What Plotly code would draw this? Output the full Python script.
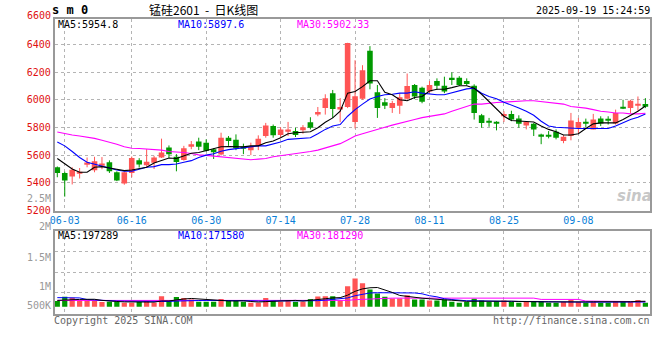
import plotly.graph_objects as go

# ---------------- data ----------------
dates = ["05-30",
         "06-03", "06-04", "06-05", "06-06", "06-09", "06-10", "06-11", "06-12", "06-13", "06-16",
         "06-17", "06-18", "06-19", "06-20", "06-23", "06-24", "06-25", "06-26", "06-27", "06-30",
         "07-01", "07-02", "07-03", "07-04", "07-07", "07-08", "07-09", "07-10", "07-11", "07-14",
         "07-15", "07-16", "07-17", "07-18", "07-21", "07-22", "07-23", "07-24", "07-25", "07-28",
         "07-29", "07-30", "07-31", "08-01", "08-04", "08-05", "08-06", "08-07", "08-08", "08-11",
         "08-12", "08-13", "08-14", "08-15", "08-18", "08-19", "08-20", "08-21", "08-22", "08-25",
         "08-26", "08-27", "08-28", "08-29", "09-01", "09-02", "09-03", "09-04", "09-05", "09-08",
         "09-09", "09-10", "09-11", "09-12", "09-15", "09-16", "09-17", "09-18", "09-19"]

opens = [5512, 5471, 5445, 5469, 5536, 5490, 5527, 5548, 5476, 5395,
         5470, 5563, 5526, 5545, 5583, 5655, 5588, 5565, 5660, 5698,
         5690, 5643, 5605, 5726, 5712, 5662, 5636, 5667, 5738, 5810,
         5745, 5774, 5774, 5779, 5838, 5893, 5940, 6048, 5929, 5948,
         5840, 6007, 6355, 6055, 5983, 5940, 5957, 6007, 6107, 6088,
         6060, 6136, 6102, 6160, 6160, 6136, 6102, 5888, 5845, 5840,
         5881, 5898, 5864, 5814, 5826, 5750, 5748, 5769, 5702, 5738,
         5798, 5840, 5786, 5864, 5858, 5829, 5945, 5940, 5960, 5969]
highs = [5518, 5480, 5512, 5507, 5583, 5588, 5586, 5562, 5483, 5478,
         5590, 5578, 5643, 5595, 5719, 5670, 5607, 5667, 5702, 5726,
         5714, 5650, 5762, 5738, 5750, 5683, 5690, 5743, 5833, 5821,
         5802, 5840, 5798, 5817, 5874, 5948, 6040, 6071, 6012, 6412,
         6286, 6250, 6388, 6107, 6012, 5993, 6048, 6190, 6114, 6095,
         6136, 6155, 6167, 6198, 6171, 6155, 6112, 5898, 5869, 5845,
         5917, 5921, 5888, 5845, 5833, 5755, 5774, 5786, 5745, 5905,
         5869, 5864, 5898, 5881, 5881, 5929, 6000, 6000, 6024, 6012]
lows = [5440, 5300, 5388, 5431, 5512, 5476, 5498, 5471, 5412, 5386,
        5440, 5510, 5515, 5500, 5579, 5580, 5483, 5560, 5643, 5636,
        5626, 5572, 5598, 5667, 5636, 5607, 5600, 5636, 5726, 5726,
        5726, 5738, 5731, 5755, 5786, 5881, 5893, 5869, 5838, 5940,
        5793, 6000, 6076, 5869, 5933, 5905, 5898, 6000, 6005, 5975,
        6048, 6071, 6048, 6107, 6100, 6102, 5857, 5798, 5805, 5779,
        5840, 5845, 5798, 5786, 5738, 5679, 5721, 5714, 5686, 5707,
        5755, 5802, 5786, 5810, 5821, 5821, 5933, 5905, 5921, 5940]
closes = [5470, 5416, 5495, 5478, 5546, 5555, 5540, 5483, 5417, 5476,
          5580, 5533, 5552, 5583, 5619, 5607, 5550, 5650, 5679, 5660,
          5631, 5620, 5726, 5703, 5650, 5650, 5660, 5719, 5814, 5743,
          5786, 5786, 5745, 5802, 5798, 5912, 6012, 5933, 5948, 6410,
          6026, 6214, 6117, 5940, 5957, 5976, 6019, 6100, 6024, 5985,
          6107, 6102, 6060, 6143, 6107, 6114, 5905, 5833, 5835, 5830,
          5898, 5857, 5826, 5840, 5786, 5740, 5740, 5726, 5733, 5850,
          5840, 5832, 5857, 5829, 5852, 5905, 5938, 5993, 5968, 5955]

ma5 = [5576, 5536, 5500, 5476, 5476, 5512, 5517, 5507, 5500, 5488,
       5493, 5500, 5512, 5543, 5560, 5579, 5576, 5595, 5614, 5619,
       5634, 5645, 5661, 5662, 5660, 5660, 5667, 5667, 5690, 5702,
       5726, 5755, 5762, 5767, 5769, 5798, 5838, 5869, 5917, 6048,
       6060, 6095, 6138, 6138, 6055, 6036, 6000, 5993, 6017, 6024,
       6064, 6076, 6076, 6088, 6102, 6102, 6083, 6040, 5988, 5940,
       5881, 5850, 5845, 5840, 5840, 5810, 5786, 5769, 5745, 5745,
       5755, 5793, 5826, 5833, 5833, 5833, 5857, 5888, 5917, 5954.8]
ma10 = [5695, 5667, 5626, 5583, 5548, 5536, 5524, 5507, 5493, 5483,
        5483, 5500, 5512, 5517, 5531, 5531, 5536, 5548, 5560, 5583,
        5600, 5610, 5628, 5640, 5648, 5655, 5662, 5667, 5667, 5679,
        5695, 5714, 5719, 5719, 5726, 5755, 5786, 5810, 5821, 5881,
        5929, 5969, 6005, 6024, 6036, 6040, 6048, 6048, 6058, 6048,
        6040, 6036, 6036, 6052, 6064, 6079, 6083, 6048, 6024, 6007,
        5983, 5964, 5940, 5917, 5888, 5845, 5810, 5802, 5798, 5798,
        5793, 5793, 5793, 5793, 5793, 5810, 5833, 5857, 5874, 5897.6]
ma30 = [5767, 5755, 5745, 5738, 5731, 5721, 5707, 5695, 5679, 5660,
        5650, 5648, 5643, 5643, 5636, 5626, 5624, 5619, 5612, 5602,
        5598, 5593, 5589, 5583, 5576, 5571, 5567, 5571, 5576, 5588,
        5595, 5607, 5612, 5619, 5626, 5636, 5650, 5667, 5683, 5710,
        5738, 5755, 5769, 5786, 5802, 5817, 5829, 5840, 5857, 5871,
        5881, 5888, 5898, 5917, 5933, 5952, 5969, 5969, 5976, 5981,
        5983, 5988, 5993, 5993, 5993, 5988, 5983, 5976, 5969, 5952,
        5948, 5940, 5929, 5917, 5912, 5905, 5905, 5898, 5898, 5902.33]

volumes = [205000, 360000, 324000, 227000, 227000, 205000, 169000, 180000, 180000, 144000,
           144000, 169000, 205000, 144000, 385000, 205000, 349000, 313000, 263000, 180000,
           180000, 180000, 277000, 227000, 205000, 180000, 144000, 144000, 313000, 241000,
           180000, 241000, 180000, 180000, 277000, 371000, 385000, 385000, 227000, 745000,
           1033000, 853000, 623000, 479000, 360000, 299000, 299000, 421000, 263000, 263000,
           227000, 227000, 263000, 180000, 144000, 169000, 288000, 227000, 180000, 205000,
           227000, 180000, 144000, 169000, 205000, 205000, 144000, 144000, 169000, 241000,
           169000, 144000, 180000, 144000, 144000, 205000, 205000, 180000, 241000, 144000]
vma5 = [230000, 250000, 260000, 265000, 269000, 270000, 230000, 200000, 190000, 175000,
        165000, 165000, 170000, 165000, 210000, 210000, 250000, 280000, 300000, 280000,
        260000, 230000, 215000, 210000, 210000, 215000, 190000, 170000, 185000, 190000,
        205000, 225000, 230000, 205000, 225000, 250000, 290000, 320000, 330000, 420000,
        560000, 650000, 690000, 700000, 620000, 520000, 410000, 370000, 330000, 310000,
        290000, 260000, 250000, 235000, 210000, 195000, 200000, 200000, 200000, 220000,
        205000, 200000, 190000, 180000, 180000, 185000, 175000, 175000, 170000, 180000,
        175000, 175000, 180000, 180000, 160000, 165000, 175000, 180000, 195000, 197289]
vma10 = [330000, 330000, 330000, 320000, 260000, 240000, 230000, 215000, 205000, 200000,
         195000, 185000, 180000, 175000, 185000, 190000, 205000, 220000, 225000, 225000,
         230000, 230000, 235000, 240000, 235000, 225000, 215000, 205000, 205000, 205000,
         200000, 200000, 205000, 215000, 215000, 220000, 240000, 260000, 280000, 320000,
         400000, 460000, 500000, 510000, 510000, 510000, 510000, 510000, 500000, 470000,
         400000, 360000, 290000, 260000, 230000, 215000, 215000, 205000, 200000, 195000,
         195000, 195000, 190000, 180000, 180000, 180000, 180000, 180000, 175000, 175000,
         170000, 165000, 165000, 165000, 165000, 165000, 165000, 168000, 170000, 171580]
vma30 = [228000, 228000, 228000, 228000, 228000, 228000, 228000, 228000, 228000, 228000,
         228000, 228000, 228000, 225000, 205000, 205000, 205000, 205000, 205000, 205000,
         205000, 205000, 205000, 205000, 205000, 205000, 205000, 205000, 205000, 205000,
         205000, 205000, 205000, 205000, 205000, 205000, 205000, 205000, 210000, 230000,
         255000, 270000, 290000, 300000, 312000, 312000, 312000, 312000, 312000, 312000,
         312000, 312000, 312000, 312000, 312000, 312000, 312000, 312000, 312000, 312000,
         312000, 312000, 312000, 312000, 312000, 265000, 265000, 265000, 265000, 265000,
         265000, 205000, 205000, 205000, 205000, 205000, 205000, 190000, 185000, 181290]

tick_labels = ["06-03", "06-16", "06-30", "07-14", "07-28", "08-11", "08-25", "09-08"]
price_ticks = [5200, 5400, 5600, 5800, 6000, 6200, 6400]

# ---------------- styling ----------------
RED = "#ff5555"
GREEN = "#009a00"
MONO = "DejaVu Sans Mono"
W, H = 660, 360
L_PX, R_PX = 50, 650

idx = list(range(len(dates)))
tick_idx = [dates.index(t) for t in tick_labels]
is_up = [c >= o for o, c in zip(opens, closes)]
colors = [RED if u else GREEN for u in is_up]

fig = go.Figure()

# wicks
for flag, col in ((True, RED), (False, GREEN)):
    xs, ys = [], []
    for i in idx:
        if is_up[i] == flag:
            xs += [i, i, None]
            ys += [lows[i], highs[i], None]
    fig.add_trace(go.Scatter(x=xs, y=ys, mode="lines", line=dict(color=col, width=1),
                             hoverinfo="skip", xaxis="x", yaxis="y"))

# bodies
body_base = [min(o, c) for o, c in zip(opens, closes)]
body_h = [max(abs(c - o), 7) for o, c in zip(opens, closes)]
fig.add_trace(go.Bar(x=idx, y=body_h, base=body_base, width=0.75,
                     marker=dict(color=colors, line=dict(width=0)), xaxis="x", yaxis="y"))

# MA lines
for arr, col in ((ma30, "#ff00ff"), (ma10, "#0000ff"), (ma5, "#000000")):
    fig.add_trace(go.Scatter(x=idx, y=arr, mode="lines", line=dict(color=col, width=1.1),
                             xaxis="x", yaxis="y"))

# volume
fig.add_trace(go.Bar(x=idx, y=volumes, width=0.7,
                     marker=dict(color=colors, line=dict(width=0)), xaxis="x2", yaxis="y2"))
for arr, col in ((vma30, "#ff00ff"), (vma10, "#0000ff"), (vma5, "#000000")):
    fig.add_trace(go.Scatter(x=idx, y=arr, mode="lines", line=dict(color=col, width=1),
                             xaxis="x2", yaxis="y2"))

xdom = [L_PX / W, R_PX / W]
xrng = [-0.36, len(dates) - 0.37]
grid = dict(showgrid=True, gridcolor="#b4b4b4", griddash="dot", gridwidth=1)
frame = dict(showline=True, mirror=True, linecolor="#999999", linewidth=1.5, zeroline=False, ticks="")

fig.update_layout(
    width=W, height=H, autosize=False,
    margin=dict(l=0, r=0, t=0, b=0),
    paper_bgcolor="white", plot_bgcolor="white",
    showlegend=False, hovermode=False,
    xaxis=dict(domain=xdom, range=xrng, anchor="y", tickmode="array", tickvals=tick_idx,
               ticktext=tick_labels, tickfont=dict(family=MONO, size=10, color="#0a80d8"),
               **grid, **frame),
    yaxis=dict(domain=[1 - 213.7 / H, 1 - 19 / H], range=[5198, 6586], anchor="x",
               tickmode="array", tickvals=price_ticks,
               tickfont=dict(family=MONO, size=10, color="#e01010"), **grid, **frame),
    xaxis2=dict(domain=xdom, range=xrng, anchor="y2", tickmode="array", tickvals=tick_idx,
                showticklabels=False, **grid, **frame),
    yaxis2=dict(domain=[1 - 318 / H, 1 - 234 / H], range=[-252000, 2772000], anchor="x2",
                tickmode="array", tickvals=[504000, 1260000, 2016000], showticklabels=False,
                **grid, **frame),
)

def ann(text, xpx, ypx, color="#000000", anchor="left", size=10, family=MONO, **kw):
    fig.add_annotation(text=text, x=xpx / W, y=1 - ypx / H, xref="paper", yref="paper",
                       xanchor=anchor, yanchor="middle", showarrow=False, borderpad=0,
                       font=dict(family=family, size=size, color=color), **kw)

NB = "\u00a0"
# header
ann("<b>s m 0</b>", 46, 10, size=12)
ann(f"锰硅2601{NB}{NB}-{NB}{NB}日K线图", 200, 9.5, anchor="center", size=12,
    family="Noto Sans CJK SC")
ann("2025-09-19 15:24:59", 651, 11, anchor="right")
ann("6600", 47, 16, color="#e01010", anchor="right")

# MA legends
ann(f"MA5:{ma5[-1]}", 52, 25)
ann(f"MA10:{ma10[-1]}", 173, 25, color="#0000ff")
ann(f"MA30:{ma30[-1]}", 293, 25, color="#ff00ff")
ann(f"MA5:{vma5[-1]}", 52, 239)
ann(f"MA10:{vma10[-1]}", 173, 239, color="#0000ff")
ann(f"MA30:{vma30[-1]}", 293, 239, color="#ff00ff")

# volume axis labels
for lab, ypx in (("2.5M", 201), ("2M", 230), ("1.5M", 261), ("1M", 291), ("500K", 310)):
    ann(lab, 47, ypx, color="#999999", anchor="right")

# footer
ann("Copyright 2025 SINA.COM", 48, 325, color="#666666")
ann("http://finance.sina.com.cn", 651, 325, color="#666666", anchor="right")

# watermark
ann("<b><i>sina</i></b>", 634, 199, color="rgba(150,150,150,0.55)", anchor="center",
    size=15, family="DejaVu Sans")

fig.write_html("out.html")
